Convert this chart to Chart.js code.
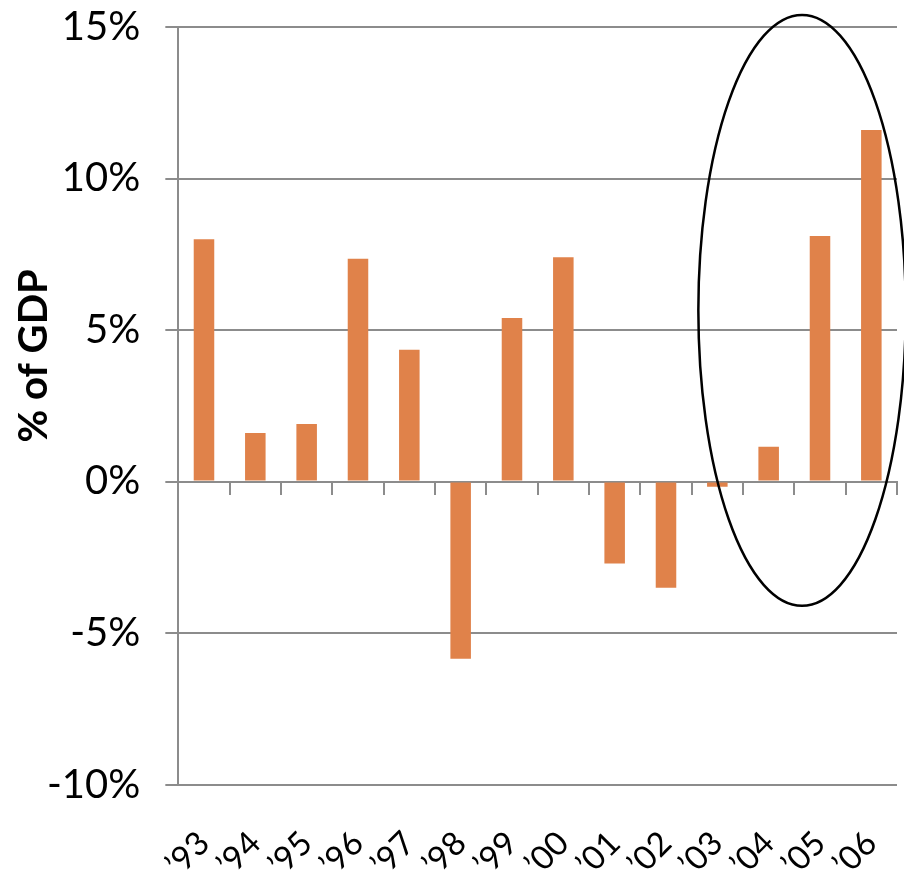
<!DOCTYPE html>
<html>
<head>
<meta charset="utf-8">
<script src="https://cdn.jsdelivr.net/npm/chart.js@4"></script>
<style>
  html, body { margin: 0; padding: 0; background: #fff; }
  #wrap { width: 904px; height: 877px; }
</style>
</head>
<body>
<div id="wrap"><canvas id="chart"></canvas></div>
<script>
// Данные графика
const years = ['’93', '’94', '’95', '’96', '’97', '’98', '’99', '’00', '’01', '’02', '’03', '’04', '’05', '’06'];
const shareOfGdp = [8.0, 1.6, 1.9, 7.35, 4.35, -5.85, 5.4, 7.4, -2.7, -3.5, -0.17, 1.15, 8.1, 11.6];
const yTicks = [-10, -5, 0, 5, 10, 15];

// Эллипс вокруг последних лет (в единицах осей)
const ringCenter = { x: 11.65, y: 5.65 };
const ringRadius = { x: 2.02, y: 9.75 };

const gridGray = '#8c8c8c';
const fontFamily = 'Lato, "Open Sans", sans-serif';

// Плагин для рисования эллипса
const ringPlugin = {
    id: 'ring',
    afterDatasetsDraw(chart) {
        const xs = chart.scales.x;
        const ys = chart.scales.y;
        const cx = xs.getPixelForValue(ringCenter.x);
        const cy = ys.getPixelForValue(ringCenter.y);
        const rx = Math.abs(xs.getPixelForValue(ringCenter.x + ringRadius.x) - cx);
        const ry = Math.abs(ys.getPixelForValue(ringCenter.y + ringRadius.y) - cy);
        const ctx = chart.ctx;
        ctx.save();
        ctx.beginPath();
        ctx.ellipse(cx, cy, rx, ry, 0, 0, Math.PI * 2);
        ctx.lineWidth = 2.5;
        ctx.strokeStyle = '#000';
        ctx.stroke();
        ctx.restore();
    }
};

const ctx = document.getElementById('chart').getContext('2d');
new Chart(ctx, {
    type: 'bar',
    data: {
        labels: years,
        datasets: [{
            data: shareOfGdp,
            backgroundColor: '#E0824A',
            barPercentage: 0.4,
            categoryPercentage: 1.0,
            xAxisID: 'x'
        }]
    },
    options: {
        responsive: true,
        maintainAspectRatio: false,
        animation: false,
        layout: { padding: { left: 0, right: 7, top: 0, bottom: 0 } },
        plugins: {
            legend: { display: false },
            tooltip: { enabled: false }
        },
        scales: {
            x: {
                type: 'category',
                position: 'bottom',
                // сетка скрыта, длина тика задаёт отступ подписей
                grid: { display: false, tickLength: 46 },
                border: { display: false },
                ticks: {
                    color: '#000',
                    font: { family: fontFamily, size: 33, lineHeight: 0.1 },
                    autoSkip: false,
                    minRotation: 45,
                    maxRotation: 45,
                    padding: 6
                }
            },
            xZero: {
                type: 'category',
                labels: years,
                position: { y: 0 },
                offset: true,
                grid: {
                    offset: true,
                    drawOnChartArea: false,
                    color: gridGray,
                    lineWidth: 2,
                    tickLength: 12
                },
                border: { color: gridGray, width: 2 },
                ticks: { display: false }
            },
            y: {
                min: -10,
                max: 15,
                afterBuildTicks(scale) {
                    scale.ticks = yTicks.map(v => ({ value: v }));
                },
                grid: {
                    color: gridGray,
                    lineWidth: 2,
                    tickLength: 13
                },
                border: { color: gridGray, width: 2 },
                ticks: {
                    color: '#000',
                    font: { family: fontFamily, size: 40, lineHeight: 0.1 },
                    padding: 25,
                    callback: v => v + '%'
                },
                title: {
                    display: true,
                    text: '\u2002\u2002\u2002\u2002\u2002% of GDP',
                    color: '#000',
                    font: { family: fontFamily, size: 40, weight: 'bold' },
                    padding: { top: 10, bottom: -36 }
                }
            }
        }
    },
    plugins: [ringPlugin]
});
</script>
</body>
</html>
